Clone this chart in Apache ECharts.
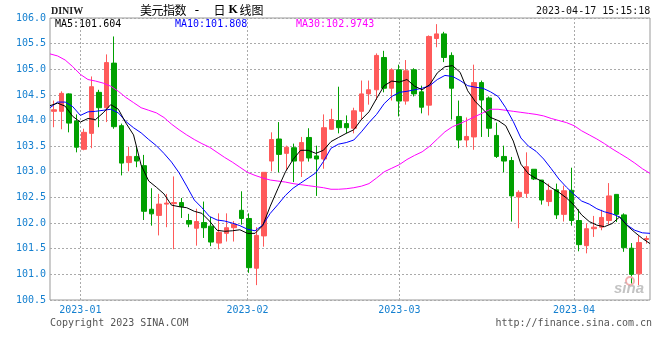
<!DOCTYPE html>
<html>
<head>
<meta charset="utf-8">
<script src="https://cdn.jsdelivr.net/npm/echarts@6/dist/echarts.min.js"></script>
<style>html,body{margin:0;padding:0;background:#fff;}#c{width:660px;height:360px;}</style>
</head>
<body>
<div id="c"></div>
<script>
// ---- data ----
var dates = [
 '2022-12-27','2022-12-28','2022-12-29','2022-12-30',
 '2023-01-02','2023-01-03','2023-01-04','2023-01-05','2023-01-06','2023-01-09','2023-01-10','2023-01-11','2023-01-12','2023-01-13',
 '2023-01-16','2023-01-17','2023-01-18','2023-01-19','2023-01-20','2023-01-23','2023-01-24','2023-01-25','2023-01-26','2023-01-27',
 '2023-01-30','2023-01-31',
 '2023-02-01','2023-02-02','2023-02-03','2023-02-06','2023-02-07','2023-02-08','2023-02-09','2023-02-10','2023-02-13','2023-02-14',
 '2023-02-15','2023-02-16','2023-02-17','2023-02-20','2023-02-21','2023-02-22','2023-02-23','2023-02-24','2023-02-27','2023-02-28',
 '2023-03-01','2023-03-02','2023-03-03','2023-03-06','2023-03-07','2023-03-08','2023-03-09','2023-03-10','2023-03-13','2023-03-14',
 '2023-03-15','2023-03-16','2023-03-17','2023-03-20','2023-03-21','2023-03-22','2023-03-23','2023-03-24','2023-03-27','2023-03-28',
 '2023-03-29','2023-03-30','2023-03-31',
 '2023-04-03','2023-04-04','2023-04-05','2023-04-06','2023-04-07','2023-04-10','2023-04-11','2023-04-12','2023-04-13','2023-04-14',
 '2023-04-17'
];
var openV = [104.18,104.18,104.52,103.99,103.44,103.75,104.55,104.25,105.12,103.90,
 103.18,103.30,103.12,102.27,102.15,102.37,102.38,102.40,102.05,101.90,
 102.01,101.94,101.61,101.80,101.91,102.25,102.09,101.12,101.75,103.21,
 103.64,103.36,103.47,103.21,103.67,103.31,103.25,103.83,104.00,103.94,
 103.85,104.18,104.52,104.60,105.23,104.63,104.99,104.38,104.99,104.56,
 104.30,105.60,105.69,105.27,104.08,103.62,103.68,104.74,104.44,103.71,
 103.30,103.22,102.51,102.58,103.05,102.84,102.42,102.65,102.17,102.64,
 102.05,101.56,101.89,101.92,102.05,102.56,102.16,101.51,101.01,101.68];
var closeV = [104.21,104.53,103.95,103.48,103.77,104.66,104.25,105.13,103.88,103.17,
 103.30,103.21,102.23,102.18,102.37,102.39,102.40,102.32,101.98,102.03,
 101.91,101.63,101.82,101.91,101.98,102.09,101.13,101.76,102.99,103.63,
 103.34,103.48,103.21,103.57,103.27,103.25,103.86,104.02,103.86,103.86,
 104.19,104.52,104.60,105.27,104.63,104.99,104.38,104.97,104.52,104.26,
 105.64,105.69,105.23,104.63,103.62,103.69,104.74,104.40,103.85,103.30,
 103.21,102.53,102.60,103.10,102.86,102.45,102.64,102.16,102.63,102.05,
 101.58,101.89,101.92,102.11,102.53,102.17,101.52,101.00,101.62,101.70];
var lowV = [103.87,103.83,103.77,103.38,103.42,103.46,103.87,103.97,103.84,102.93,
 103.01,103.09,102.06,101.95,101.76,101.92,101.49,102.10,101.92,101.56,
 101.71,101.55,101.49,101.64,101.64,101.97,101.03,100.79,101.54,103.01,
 102.99,103.03,102.80,102.90,103.20,102.53,103.06,103.82,103.75,103.75,
 103.75,104.01,104.31,104.40,104.55,104.39,104.08,104.31,104.47,104.14,
 104.10,105.43,105.14,104.02,103.46,103.48,103.43,103.68,103.68,103.27,
 102.99,102.03,101.90,102.49,102.84,102.36,102.33,102.08,102.03,101.95,
 101.45,101.41,101.73,101.86,101.97,102.02,101.44,100.82,100.79,101.60];
var highV = [104.39,104.57,104.53,104.12,103.84,104.86,104.60,105.29,105.64,103.94,
 103.49,103.49,103.33,102.68,102.57,102.57,102.91,102.49,102.18,102.28,
 102.42,102.12,102.19,102.19,102.04,102.62,102.19,101.92,102.99,103.77,
 103.97,103.51,103.55,103.68,103.85,103.51,104.12,104.23,104.66,104.10,
 104.25,104.78,104.78,105.31,105.36,105.02,105.09,105.18,105.02,104.68,
 105.66,105.88,105.73,105.33,104.39,104.06,105.09,104.78,104.47,103.96,
 103.51,103.29,102.64,103.38,103.05,102.84,102.77,102.77,102.73,103.08,
 102.27,102.00,102.14,102.26,102.78,102.56,102.19,101.61,101.75,101.75];
var ma5 = [104.29,104.34,104.28,104.08,103.97,104.04,104.02,104.15,104.31,104.22,
 103.95,103.72,103.13,102.82,102.70,102.57,102.35,102.32,102.30,102.23,
 102.19,102.04,101.86,101.84,101.85,101.87,101.80,101.80,101.95,102.33,
 102.67,103.00,103.24,103.42,103.42,103.36,103.42,103.59,103.67,103.75,
 103.82,104.02,104.17,104.43,104.68,104.77,104.75,104.80,104.67,104.60,
 104.70,104.93,105.05,105.07,104.94,104.58,104.37,104.22,104.06,104.00,
 103.90,103.60,103.15,102.96,102.87,102.80,102.69,102.60,102.49,102.35,
 102.16,102.03,101.96,101.93,101.99,102.12,101.95,101.82,101.70,101.60];
var ma10 = [104.25,104.36,104.36,104.27,104.10,104.17,104.18,104.20,104.22,104.15,
 103.98,103.86,103.76,103.63,103.51,103.36,103.19,102.98,102.72,102.45,
 102.30,102.13,102.06,102.04,102.00,101.95,101.88,101.85,101.96,102.19,
 102.36,102.54,102.68,102.78,102.88,102.98,103.20,103.46,103.54,103.57,
 103.62,103.78,103.96,104.12,104.33,104.47,104.55,104.57,104.60,104.63,
 104.68,104.80,104.88,104.86,104.78,104.68,104.65,104.63,104.56,104.47,
 104.25,103.98,103.66,103.50,103.40,103.25,103.06,102.86,102.70,102.56,
 102.43,102.37,102.28,102.22,102.18,102.12,101.96,101.86,101.81,101.80];
var ma30 = [105.30,105.26,105.18,105.05,104.90,104.80,104.77,104.73,104.67,104.57,
 104.45,104.35,104.25,104.20,104.15,104.06,103.93,103.82,103.72,103.63,
 103.55,103.48,103.38,103.28,103.19,103.09,102.99,102.93,102.88,102.84,
 102.82,102.80,102.77,102.75,102.73,102.71,102.69,102.66,102.66,102.67,
 102.69,102.72,102.77,102.88,103.00,103.07,103.14,103.24,103.32,103.39,
 103.50,103.64,103.78,103.88,103.94,104.01,104.08,104.15,104.22,104.22,
 104.20,104.18,104.16,104.14,104.12,104.09,104.04,104.00,103.96,103.90,
 103.80,103.72,103.64,103.55,103.45,103.36,103.27,103.17,103.06,102.97];
var yTicks = {min: 100.5, max: 106.0, step: 0.5};
var legendTexts = ['MA5:101.604', 'MA10:101.808', 'MA30:102.9743'];
var titleChars = ['美','元','指','数','-','日','K','线','图'];
var symbolName = 'DINIW';
var stamp = '2023-04-17 15:15:18';
var footLeft = 'Copyright 2023 SINA.COM';
var footRight = 'http://finance.sina.com.cn';

// ---- chart ----
var RED = '#ff5a5a', GREEN = '#00a000', BLUE_TXT = '#1580d0';
var MONO = '"DejaVu Sans Mono", "Liberation Mono", monospace';
var kData = dates.map(function (d, i) { return [openV[i], closeV[i], lowV[i], highV[i]]; });
function isMonthStart(idx) {
  return idx > 0 && dates[idx].slice(0, 7) !== dates[idx - 1].slice(0, 7);
}
var titleX = [140, 151.5, 163, 174.5, 193, 213.5, 228.5, 239.5, 251.5];
var graphics = [
  {type: 'text', left: 51, top: 6, style: {text: symbolName, font: 'bold 10px "Liberation Serif", serif', fill: '#222'}},
  {type: 'text', left: 536, top: 6, style: {text: stamp, font: '10px ' + MONO, fill: '#111'}},
  {type: 'text', left: 50, top: 318, style: {text: footLeft, font: '10px ' + MONO, fill: '#555'}},
  {type: 'text', right: 8, top: 318, style: {text: footRight, font: '10px ' + MONO, fill: '#555'}},
  {type: 'text', left: 55, top: 19, style: {text: legendTexts[0], font: '10px ' + MONO, fill: '#000'}},
  {type: 'text', left: 175, top: 19, style: {text: legendTexts[1], font: '10px ' + MONO, fill: '#0000ff'}},
  {type: 'text', left: 296, top: 19, style: {text: legendTexts[2], font: '10px ' + MONO, fill: '#ff00ff'}},
  {type: 'circle', shape: {cx: 630, cy: 281, r: 4}, style: {fill: 'none', stroke: '#f3b0b0', lineWidth: 2}, z: 10},
  {type: 'text', left: 614, top: 281, style: {text: 'sina', font: 'italic bold 15px "Liberation Sans", sans-serif', fill: 'rgba(170,170,170,0.7)'}, z: 10}
];
titleChars.forEach(function (ch, i) {
  var f = '12px "Noto Sans CJK SC", sans-serif';
  if (ch === 'K') f = 'bold 12px "Liberation Serif", serif';
  if (ch === '-') f = '13px ' + MONO;
  graphics.push({type: 'text', left: titleX[i], top: 4, style: {text: ch, font: f, fill: '#000'}});
});

var chart = echarts.init(document.getElementById('c'), null, {renderer: 'canvas'});
chart.setOption({
  animation: false,
  backgroundColor: '#fff',
  grid: {left: 50, right: 10, top: 18, bottom: 60, show: true, borderColor: '#999', borderWidth: 1},
  xAxis: [
    {type: 'category', data: dates, boundaryGap: true, show: false},
    {type: 'category', data: dates, boundaryGap: false, position: 'bottom',
      axisLine: {show: false}, axisTick: {show: false},
      axisLabel: {interval: function (i) { return isMonthStart(i); }, formatter: function (v) { return v.slice(0, 7); },
        color: BLUE_TXT, fontFamily: MONO, fontSize: 10, margin: 5},
      splitLine: {show: true, interval: function (i) { return isMonthStart(i); }, lineStyle: {color: '#aaa', type: [2, 2], width: 1}}
    }
  ],
  yAxis: {
    type: 'value', min: yTicks.min, max: yTicks.max, interval: yTicks.step, scale: true,
    axisLine: {show: false}, axisTick: {show: false},
    axisLabel: {formatter: function (v) { return v.toFixed(1); }, color: BLUE_TXT, fontFamily: MONO, fontSize: 10, margin: 4},
    splitLine: {show: true, lineStyle: {color: '#aaa', type: [2, 2], width: 1}}
  },
  series: [
    {type: 'candlestick', xAxisIndex: 0, data: kData, barWidth: 5,
      itemStyle: {color: RED, color0: GREEN, borderColor: RED, borderColor0: GREEN, borderWidth: 1}},
    {type: 'line', xAxisIndex: 1, data: ma30, symbol: 'none', lineStyle: {color: '#ff00ff', width: 1}, z: 3},
    {type: 'line', xAxisIndex: 1, data: ma10, symbol: 'none', lineStyle: {color: '#0000ff', width: 1}, z: 3},
    {type: 'line', xAxisIndex: 1, data: ma5, symbol: 'none', lineStyle: {color: '#000000', width: 1}, z: 3}
  ],
  graphic: graphics
});
</script>
</body>
</html>
